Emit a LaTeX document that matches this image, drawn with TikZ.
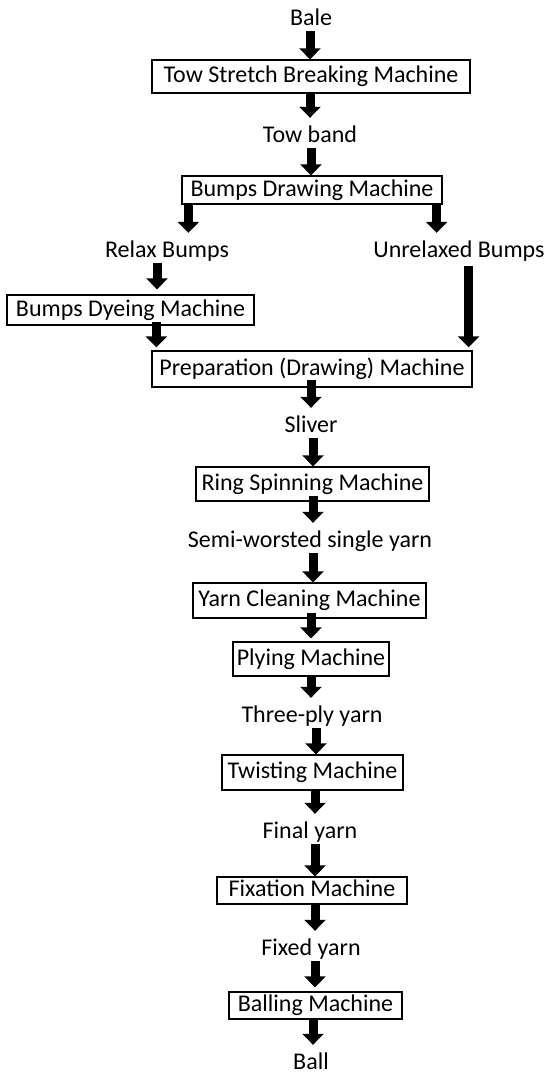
\documentclass[tikz,border=0pt]{standalone}
\usepackage{fontspec}
\setmainfont{Carlito}
\usetikzlibrary{arrows.meta}
\begin{document}
\begin{tikzpicture}[x=1pt,y=-1pt,
  lbl/.style={inner sep=0pt, text height=24pt, text depth=6pt, anchor=base, font=\fontsize{24}{28}\selectfont},
  box/.style={draw, line width=1.3pt, inner sep=0pt, text height=18pt, text depth=6pt, font=\fontsize{24}{28}\selectfont},
  blk/.style={line width=9pt, -{Triangle[width=21pt,length=11pt]}}]
\useasboundingbox (0,0) rectangle (550,1082);
% labels
\node[lbl] (bale) at (311,25) {Bale};
\node[lbl] (tb) at (310,142) {Tow band};
\node[lbl] (rb) at (167,257) {Relax Bumps};
\node[lbl] (ub) at (459,257) {Unrelaxed Bumps};
\node[lbl] (sl) at (311,432) {Sliver};
\node[lbl] (semi) at (310,547) {Semi-worsted single yarn};
\node[lbl] (three) at (312,722) {Three-ply yarn};
\node[lbl] (final) at (310,838) {Final yarn};
\node[lbl] (fixed) at (311,955) {Fixed yarn};
\node[lbl] (ball) at (311,1069) {Ball};
% boxes
\node[box, minimum width=318pt, minimum height=33pt] (tsb) at (311,76.5) {Tow Stretch Breaking Machine};
\node[box, minimum width=260pt, minimum height=28pt] (bd) at (312,190) {Bumps Drawing Machine};
\node[box, minimum width=247pt, minimum height=30pt] (dy) at (130.5,310) {Bumps Dyeing Machine};
\node[box, minimum width=320pt, minimum height=36pt] (pr) at (312,369) {Preparation (Drawing) Machine};
\node[box, minimum width=233pt, minimum height=34pt] (ring) at (312.5,484) {Ring Spinning Machine};
\node[box, minimum width=233pt, minimum height=35pt] (yc) at (309.5,600.5) {Yarn Cleaning Machine};
\node[box, minimum width=156pt, minimum height=34pt] (ply) at (311,659) {Plying Machine};
\node[box, minimum width=181pt, minimum height=35pt] (tw) at (312.5,772.5) {Twisting Machine};
\node[box, minimum width=190pt, minimum height=27pt] (fix) at (312,890.5) {Fixation Machine};
\node[box, minimum width=173pt, minimum height=27pt] (bm) at (315.5,1005.5) {Balling Machine};
% arrows
\draw[blk] ([xshift=-1pt]bale.south) -- ([xshift=-1pt]bale.south |- tsb.north);
\draw[blk] (tb.north |- tsb.south) -- (tb.north);
\draw[blk] ([xshift=1pt]tb.south) -- ([xshift=1pt]tb.south |- bd.north);
\draw[blk] ([xshift=7pt]bd.south west) -- ([xshift=7pt]bd.south west |- rb.north);
\draw[blk] ([xshift=-6pt]bd.south east) -- ([xshift=-6pt]bd.south east |- ub.north);
\draw[blk, shorten >=5pt] ([xshift=-10pt]rb.south) -- ([xshift=-10pt]rb.south |- dy.north);
\draw[blk, shorten >=3pt] ([xshift=5pt]pr.north west |- dy.south) ++(0,-4) -- ([xshift=5pt]pr.north west);
\draw[blk, shorten >=3pt] ([xshift=-4pt]pr.north east |- ub.south) ++(0,3) -- ([xshift=-4pt]pr.north east);
\draw[blk] (sl.north |- pr.south) ++(0,-8) -- (sl.north);
\draw[blk] ([xshift=2pt]sl.south) -- ([xshift=2pt]sl.south |- ring.north);
\draw[blk] ([xshift=3pt]semi.north |- ring.south) ++(0,-6) -- ([xshift=3pt]semi.north);
\draw[blk] ([xshift=3pt]semi.south) -- ([xshift=3pt]semi.south |- yc.north);
\draw[blk, shorten >=3pt] (ply.north |- yc.south) ++(0,-6) -- (ply.north);
\draw[blk] (three.north -| ply.south) ++(0,-22) -- (three.north -| ply.south);
\draw[blk] ([xshift=4pt]three.south) -- ([xshift=4pt]three.south |- tw.north);
\draw[blk] ([xshift=5pt]final.north |- tw.south) ++(0,-2) -- ([xshift=5pt]final.north);
\draw[blk] ([xshift=5pt]final.south) -- ([xshift=5pt]final.south |- fix.north);
\draw[blk] ([xshift=4pt]fixed.north |- fix.south) -- ([xshift=4pt]fixed.north);
\draw[blk, shorten >=4pt] ([xshift=4pt]fixed.south) -- ([xshift=4pt]fixed.south |- bm.north);
\draw[blk] ([xshift=2pt]ball.north |- bm.south) -- ([xshift=2pt]ball.north);
\end{tikzpicture}
\end{document}
